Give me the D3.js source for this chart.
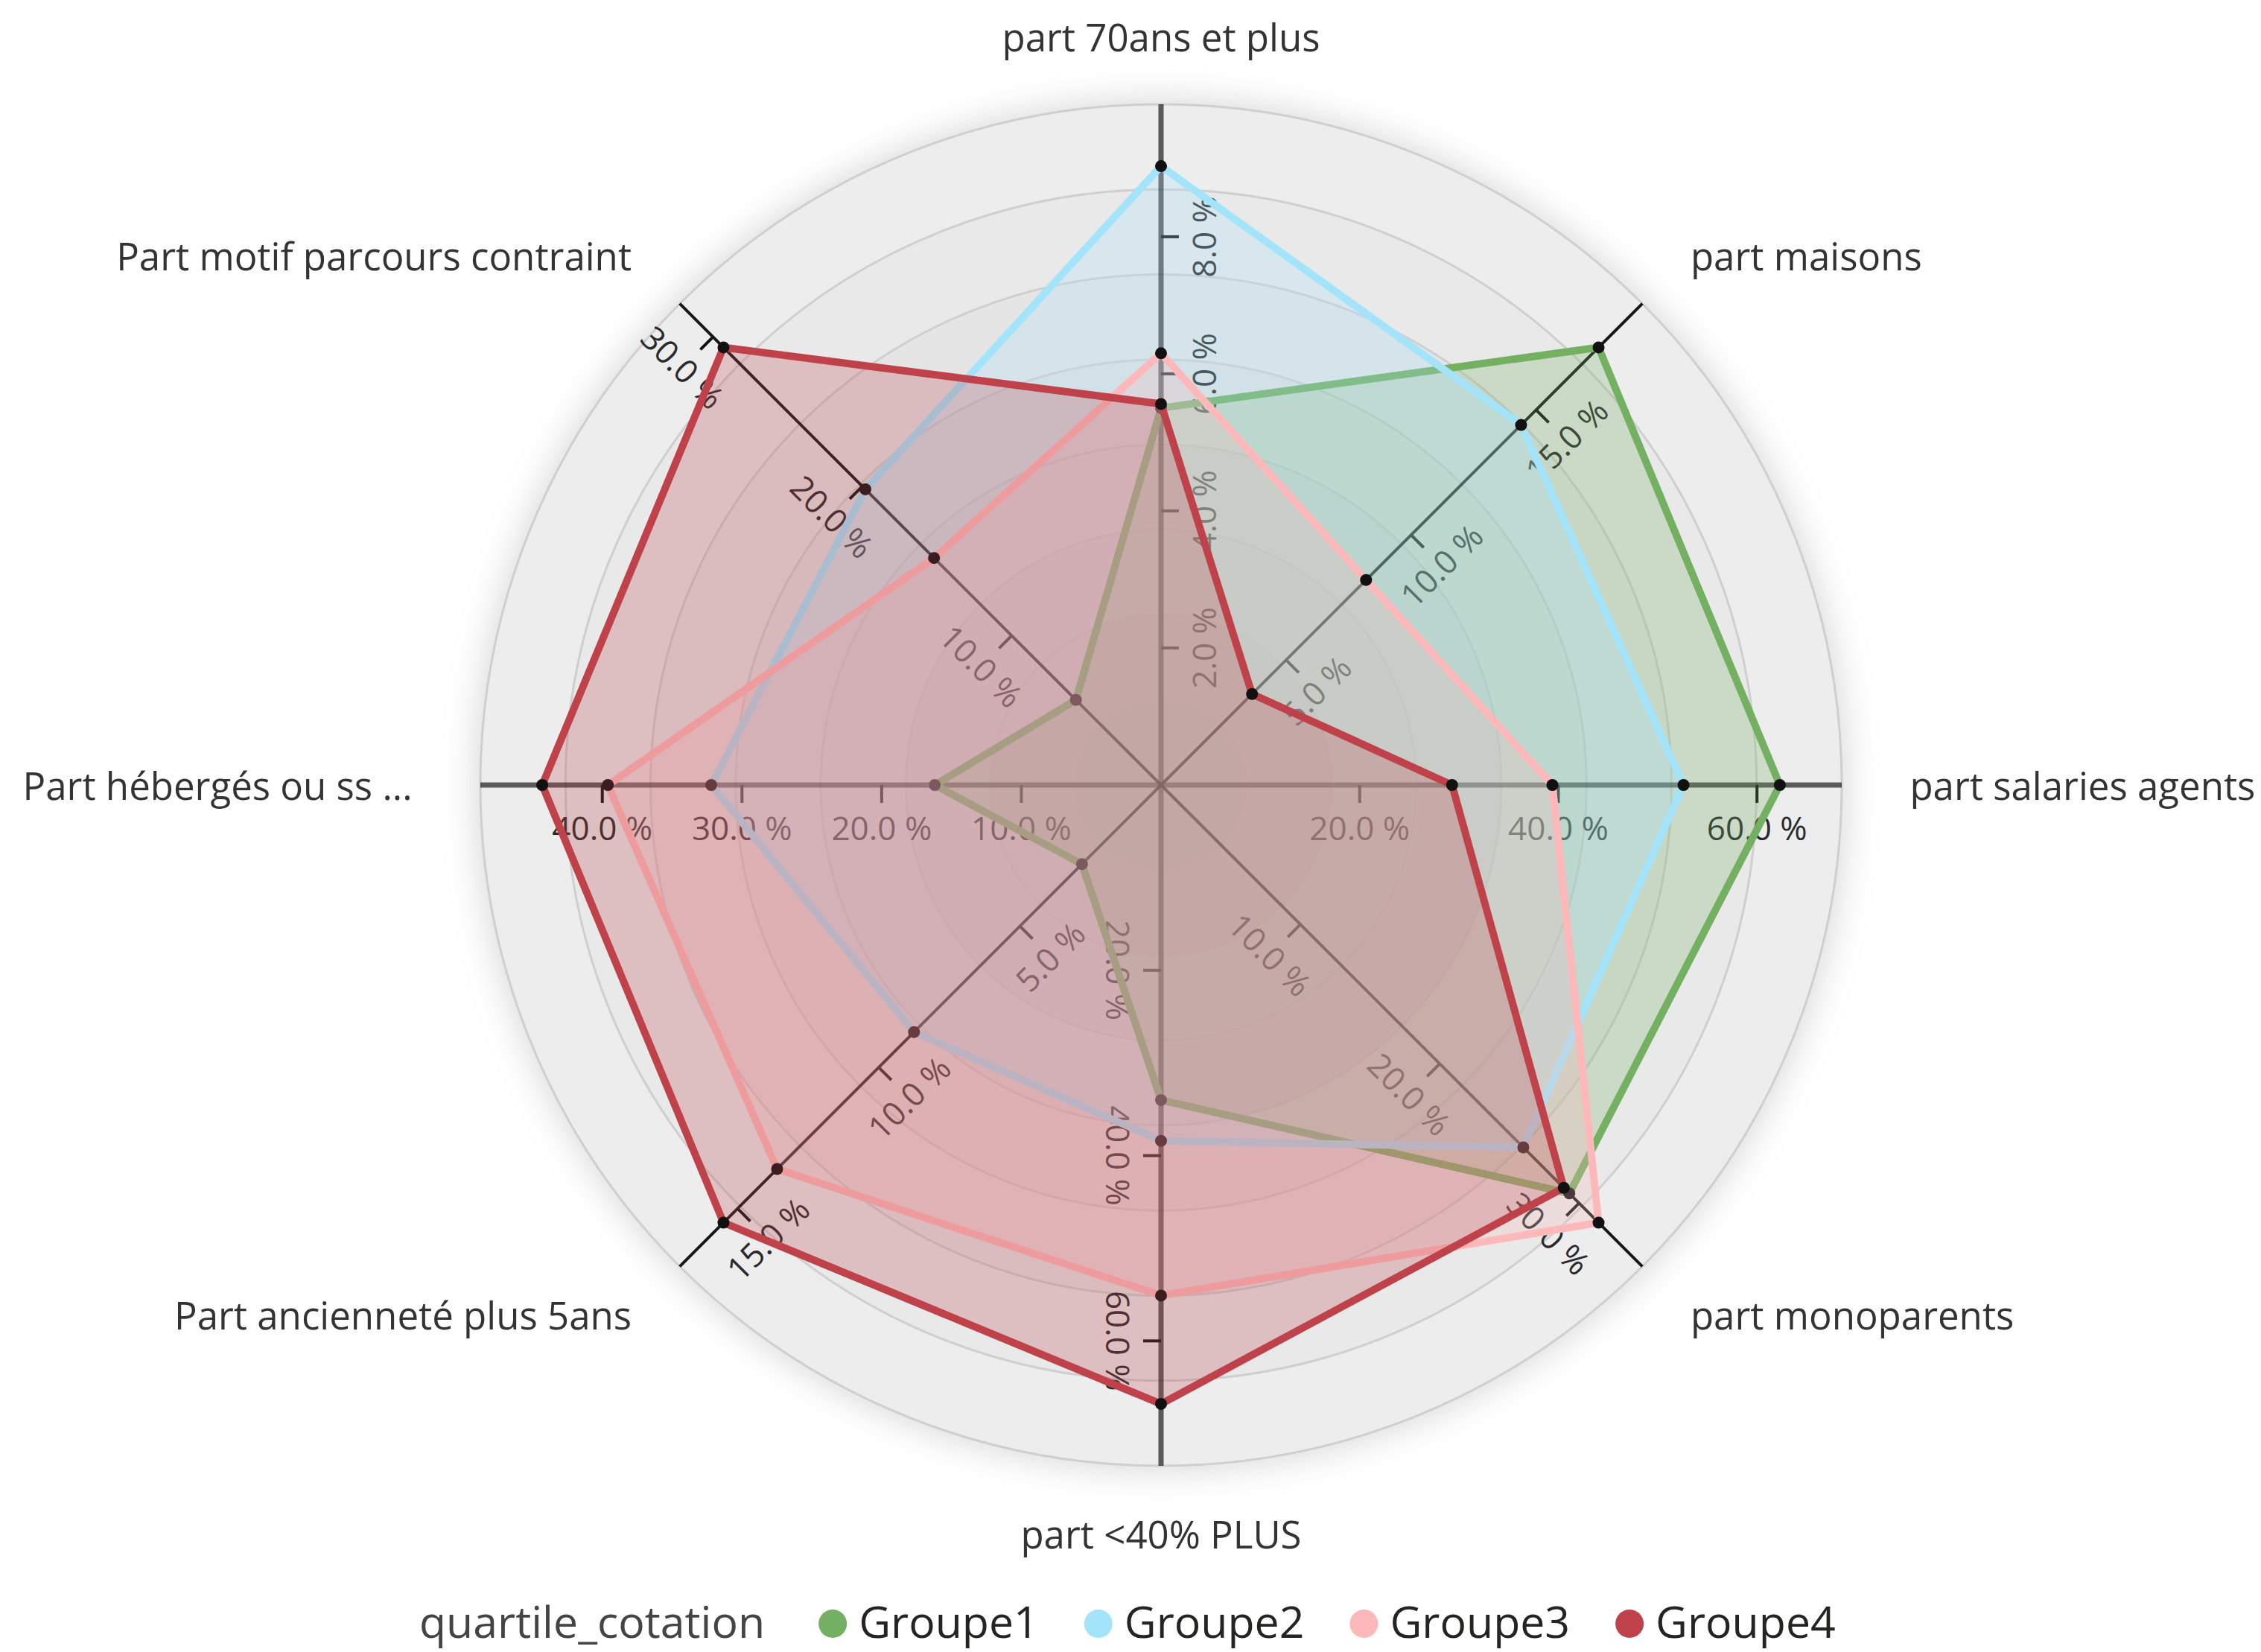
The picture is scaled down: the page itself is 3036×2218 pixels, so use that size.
<!DOCTYPE html>
<html>
<head>
<meta charset="utf-8">
<script src="https://cdn.jsdelivr.net/npm/d3@7"></script>
<style>
  body { margin: 0; background: #fff; }
  svg text { font-family: "Segoe UI", "Open Sans", sans-serif; }
</style>
</head>
<body>
<svg id="chart" width="3036" height="2218"></svg>
<script>
// Radar chart of the "quartile_cotation" groups, one scale per axis.

var AXES = [
  "part 70ans et plus",
  "part maisons",
  "part salaries agents",
  "part monoparents",
  "part <40% PLUS",
  "Part ancienneté plus 5ans",
  "Part hébergés ou ss ...",
  "Part motif parcours contraint"
];

// Tick values shown on each axis (percent).
var AXIS_TICKS = [
  [2, 4, 6, 8],
  [5, 10, 15],
  [20, 40, 60],
  [10, 20, 30],
  [20, 40, 60],
  [5, 10, 15],
  [10, 20, 30, 40],
  [10, 20, 30]
];

var GROUPS = ["Groupe1", "Groupe2", "Groupe3", "Groupe4"];
var COLORS = ["#74B062", "#A3E4FB", "#FDB9B9", "#BF424A"];
var LEGEND_TITLE = "quartile_cotation";

// Values per group, same order as AXES (percent).
var groupe1 = [5.5, 17.5, 62.3, 29.3, 34.0, 2.8, 16.2, 5.7];
var groupe2 = [9.03, 14.4, 52.6, 26.0, 38.4, 8.75, 32.2, 19.8];
var groupe3 = [6.3, 8.2, 39.4, 31.4, 55.1, 13.6, 39.6, 15.2];
var groupe4 = [5.56, 3.64, 29.3, 28.9, 66.8, 15.5, 44.3, 29.3];

var SERIES = [groupe1, groupe2, groupe3, groupe4];

var CX = 1559, CY = 1054;
var R = 914;
var LEVELS = 8;

var svg = d3.select("#chart");

// soft shadow round the background disc
var defs = svg.append("defs");
defs.append("filter")
    .attr("id", "blur")
    .attr("x", "-20%").attr("y", "-20%")
    .attr("width", "140%").attr("height", "140%")
  .append("feGaussianBlur")
    .attr("stdDeviation", 22);

var chart = svg.append("g")
    .attr("transform", "translate(" + CX + "," + CY + ")");

// Angle of axis i, radians, 0 = up, clockwise (d3.lineRadial convention).
var angle = d3.scaleLinear()
    .domain([0, AXES.length])
    .range([0, 2 * Math.PI]);

// One linear scale per axis, max is 1.1 x the largest value on it.
var scales = AXES.map(function(a, i) {
  var m = d3.max(SERIES, function(s) { return s[i]; });
  return d3.scaleLinear().domain([0, m * 1.1]).range([0, R]);
});

function px(i, r) { return r * Math.sin(angle(i)); }
function py(i, r) { return -r * Math.cos(angle(i)); }

// Background: shadow, base disc, then stacked rings getting darker inward.
chart.append("circle")
    .attr("r", R + 8)
    .attr("fill", "#9a9a9a")
    .attr("opacity", 0.35)
    .attr("filter", "url(#blur)");

chart.append("circle")
    .attr("r", R)
    .attr("fill", "#ededed");

var levels = d3.range(LEVELS, 0, -1).map(function(k) { return R * k / LEVELS; });
chart.append("g").attr("class", "levels")
  .selectAll("circle")
  .data(levels)
  .join("circle")
    .attr("r", function(d) { return d; })
    .attr("fill", "#000")
    .attr("fill-opacity", function(d, i) { return i === 0 ? 0 : 0.016; })
    .attr("stroke", "#cfcfcf")
    .attr("stroke-width", 3);

// Axis lines
var axisG = chart.append("g").attr("class", "axes");
AXES.forEach(function(name, i) {
  var aligned = i % 2 === 0;
  axisG.append("line")
      .attr("x1", 0).attr("y1", 0)
      .attr("x2", px(i, R)).attr("y2", py(i, R))
      .attr("stroke", "#000")
      .attr("stroke-opacity", aligned ? 0.62 : 0.9)
      .attr("stroke-width", aligned ? 7 : 4);
});

// Ticks and rotated tick labels, placed on the same side as the labels.
AXES.forEach(function(name, i) {
  var deg = angle(i) * 180 / Math.PI - 90;       // screen angle, 0 = right
  var rad = deg * Math.PI / 180;
  var rot = Math.cos(rad) < -0.01 ? deg - 180 : deg;
  var rr = rot * Math.PI / 180;
  var nx = -Math.sin(rr), ny = Math.cos(rr);   // local +y of the rotated frame

  AXIS_TICKS[i].forEach(function(t) {
    var r = scales[i](t);
    var x = px(i, r), y = py(i, r);
    axisG.append("line")
        .attr("x1", x).attr("y1", y)
        .attr("x2", x + nx * 24).attr("y2", y + ny * 24)
        .attr("stroke", "#111")
        .attr("stroke-width", 4);
    axisG.append("text")
        .attr("transform", "translate(" + (x + nx * 57) + "," + (y + ny * 57) + ") rotate(" + rot + ")")
        .attr("text-anchor", "middle")
        .attr("dominant-baseline", "central")
        .attr("font-size", 44)
        .attr("fill", "#2a2a2a")
        .text(t.toFixed(1) + " %");
  });
});

// Group polygons, drawn in order so Groupe4 ends up on top.
var radial = d3.lineRadial()
    .angle(function(d, i) { return angle(i); })
    .radius(function(d, i) { return scales[i](d); })
    .curve(d3.curveLinearClosed);

SERIES.forEach(function(values, g) {
  var sg = chart.append("g").attr("class", "series");
  sg.append("path")
      .attr("d", radial(values))
      .attr("fill", COLORS[g])
      .attr("fill-opacity", 0.25)
      .attr("stroke", COLORS[g])
      .attr("stroke-width", 10)
      .attr("stroke-linejoin", "miter");
  sg.selectAll("circle")
    .data(values)
    .join("circle")
      .attr("cx", function(d, i) { return px(i, scales[i](d)); })
      .attr("cy", function(d, i) { return py(i, scales[i](d)); })
      .attr("r", 8)
      .attr("fill", "#111");
});

// Category labels
chart.append("g").attr("class", "labels")
  .selectAll("text")
  .data(AXES)
  .join("text")
    .attr("x", function(d, i) { return px(i, R * 1.1); })
    .attr("y", function(d, i) { return py(i, R * 1.1); })
    .attr("text-anchor", function(d, i) {
      var s = Math.sin(angle(i));
      if (Math.abs(s) < 0.01) return "middle";
      return s > 0 ? "start" : "end";
    })
    .attr("dominant-baseline", "central")
    .attr("font-size", 51)
    .attr("fill", "#333")
    .text(function(d) { return d; });

// Legend along the bottom
var legend = svg.append("g")
    .attr("transform", "translate(563,2176)");

var title = legend.append("text")
    .attr("x", 0).attr("y", 0)
    .attr("dominant-baseline", "central")
    .attr("font-size", 59)
    .attr("fill", "#444")
    .text(LEGEND_TITLE);

var lx = title.node().getComputedTextLength() + 91;
GROUPS.forEach(function(name, g) {
  legend.append("circle")
      .attr("cx", lx).attr("cy", 4)
      .attr("r", 19)
      .attr("fill", COLORS[g]);
  var t = legend.append("text")
      .attr("x", lx + 35).attr("y", 0)
      .attr("dominant-baseline", "central")
      .attr("font-size", 59)
      .attr("fill", "#252423")
      .text(name);
  lx += 35 + t.node().getComputedTextLength() + 80;
});
</script>
</body>
</html>
